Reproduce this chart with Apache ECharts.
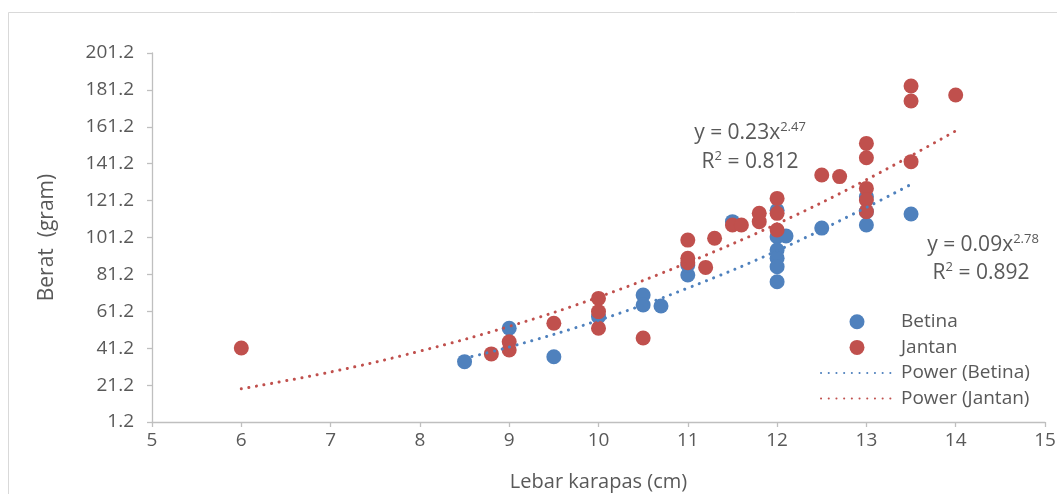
<!DOCTYPE html>
<html>
<head>
<meta charset="utf-8">
<script src="https://cdn.jsdelivr.net/npm/echarts@6/dist/echarts.min.js"></script>
<style>html,body{margin:0;padding:0;background:#fff;}#c{width:1057px;height:494px;}</style>
</head>
<body>
<div id="c"></div>
<script>
// Data
const betinaPoints = [
  [8.5, 33.9], [9, 52.0], [9.5, 36.6], [10, 58.3], [10.5, 70.0], [10.5, 64.6], [10.7, 64.1],
  [11, 80.9], [11, 86.3], [11.5, 109.8], [12, 116.0], [12, 101.6], [12.1, 102.0], [12, 94.4],
  [12, 90.0], [12, 85.4], [12, 77.2], [12.5, 106.3], [13, 123.3], [13, 115.2], [13, 108.0],
  [13.5, 113.9]
];
const jantanPoints = [
  [6, 41.3], [8.8, 38.1], [9, 44.7], [9, 40.2], [9.5, 54.7], [10, 68.2], [10, 61.0], [10, 52.0],
  [10.5, 46.7], [11, 99.8], [11, 89.9], [11, 87.5], [11.2, 85.0], [11.3, 100.8], [11.5, 108.0],
  [11.6, 108.0], [11.8, 114.3], [11.8, 109.8], [12, 122.4], [12, 114.3], [12, 105.3],
  [12.5, 135.1], [12.7, 134.2], [13, 152.2], [13, 144.4], [13, 127.8], [13, 121.5], [13, 115.2],
  [13.5, 183.3], [13.5, 175.2], [13.5, 142.3], [14, 178.4]
];
// Trend lines (power fits)
const betinaTrendX = [8.5, 9, 10, 11, 12, 13, 13.5];
const betinaTrendY = [35.8, 41.8, 56.3, 73.8, 94.0, 117.5, 130.0];
const jantanTrendX = [6, 7, 8, 9, 10, 11, 12, 13, 14];
const jantanTrendY = [19.2, 28.3, 39.6, 53.0, 68.9, 87.6, 108.6, 132.5, 159.0];
const yTickValues = [1.2, 21.2, 41.2, 61.2, 81.2, 101.2, 121.2, 141.2, 161.2, 181.2, 201.2];
const seriesNames = ['Betina', 'Jantan', 'Power (Betina)', 'Power (Jantan)'];
const eqJantan = ['y = 0.23x', '2.47', 'R', '2', ' = 0.812'];
const eqBetina = ['y = 0.09x', '2.78', 'R', '2', ' = 0.892'];

const BLUE = '#4F81BD', RED = '#C0504D', TXT = '#595959', AX = '#BFBFBF';
const FONT = '"Open Sans", sans-serif';
const zip = (xs, ys) => xs.map((x, i) => [x, ys[i]]);

const chart = echarts.init(document.getElementById('c'), null, {renderer: 'canvas'});
const eqRich = {
  n: {fontSize: 21, fontFamily: FONT, fill: TXT, color: TXT},
  sup: {fontSize: 13, fontFamily: FONT, fill: TXT, color: TXT, padding: [0, 0, 12, 0]}
};
function eqLine1(e) { return '{n|' + e[0] + '}{sup|' + e[1] + '}'; }
function eqLine2(e) { return '{n|' + e[2] + '}{sup|' + e[3] + '}{n|' + e[4] + '}'; }

chart.setOption({
  animation: false,
  backgroundColor: '#fff',
  grid: {left: 152, right: 12, top: 53, bottom: 72, containLabel: false, outerBoundsMode: 'none'},
  xAxis: {
    type: 'value', min: 5, max: 15, interval: 1,
    name: 'Lebar karapas (cm)', nameLocation: 'middle', nameGap: 50,
    nameTextStyle: {fontFamily: FONT, fontSize: 20, color: TXT},
    axisLine: {show: true, lineStyle: {color: AX, width: 1.3}},
    axisTick: {show: true, length: 5, lineStyle: {color: AX, width: 1.3}},
    axisLabel: {fontFamily: FONT, fontSize: 19, color: TXT, margin: 9},
    splitLine: {show: false}
  },
  yAxis: {
    type: 'value', min: 1.2, max: 201.2,
    name: 'Berat  (gram)', nameLocation: 'middle', nameGap: 94, nameRotate: 90,
    nameTextStyle: {fontFamily: FONT, fontSize: 21, color: TXT},
    axisLine: {show: true, lineStyle: {color: AX, width: 1.3}},
    axisTick: {show: true, length: 5, lineStyle: {color: AX, width: 1.3}, customValues: yTickValues},
    axisLabel: {fontFamily: FONT, fontSize: 19, color: TXT, margin: 18, customValues: yTickValues,
      formatter: v => Number(v).toFixed(1)},
    splitLine: {show: false}
  },
  legend: {
    orient: 'vertical', left: 820, top: 309, padding: 0,
    itemWidth: 72, itemHeight: 15, itemGap: 0,
    textStyle: {fontFamily: FONT, fontSize: 19, color: TXT, lineHeight: 25.6, padding: [0, 0, 0, 3]},
    data: [
      {name: seriesNames[0]},
      {name: seriesNames[1]},
      {name: seriesNames[2], itemStyle: {opacity: 0}},
      {name: seriesNames[3], itemStyle: {opacity: 0}}
    ]
  },
  graphic: [
    {type: 'rect', silent: true, shape: {x: 8.5, y: 12.5, width: 1100, height: 600},
      style: {fill: 'none', stroke: '#D9D9D9', lineWidth: 1}},
    {type: 'text', x: 750, y: 133, style: {text: eqLine1(eqJantan), rich: eqRich, align: 'center', verticalAlign: 'middle'}},
    {type: 'text', x: 750, y: 162, style: {text: eqLine2(eqJantan), rich: eqRich, align: 'center', verticalAlign: 'middle'}},
    {type: 'text', x: 983, y: 245, style: {text: eqLine1(eqBetina), rich: eqRich, align: 'center', verticalAlign: 'middle'}},
    {type: 'text', x: 981, y: 273, style: {text: eqLine2(eqBetina), rich: eqRich, align: 'center', verticalAlign: 'middle'}}
  ],
  series: [
    {name: seriesNames[0], type: 'scatter', data: betinaPoints, symbol: 'circle', symbolSize: 15,
      itemStyle: {color: BLUE, opacity: 1}, z: 2},
    {name: seriesNames[1], type: 'scatter', data: jantanPoints, symbol: 'circle', symbolSize: 15,
      itemStyle: {color: RED, opacity: 1}, z: 3},
    {name: seriesNames[2], type: 'line', data: zip(betinaTrendX, betinaTrendY), smooth: 0.4,
      symbol: 'none', showSymbol: false, itemStyle: {color: BLUE},
      lineStyle: {color: BLUE, width: 3, type: [0.1, 7.6], cap: 'round'}, z: 4},
    {name: seriesNames[3], type: 'line', data: zip(jantanTrendX, jantanTrendY), smooth: 0.4,
      symbol: 'none', showSymbol: false, itemStyle: {color: RED},
      lineStyle: {color: RED, width: 3, type: [0.1, 7.6], cap: 'round'}, z: 4}
  ]
});
</script>
</body>
</html>
